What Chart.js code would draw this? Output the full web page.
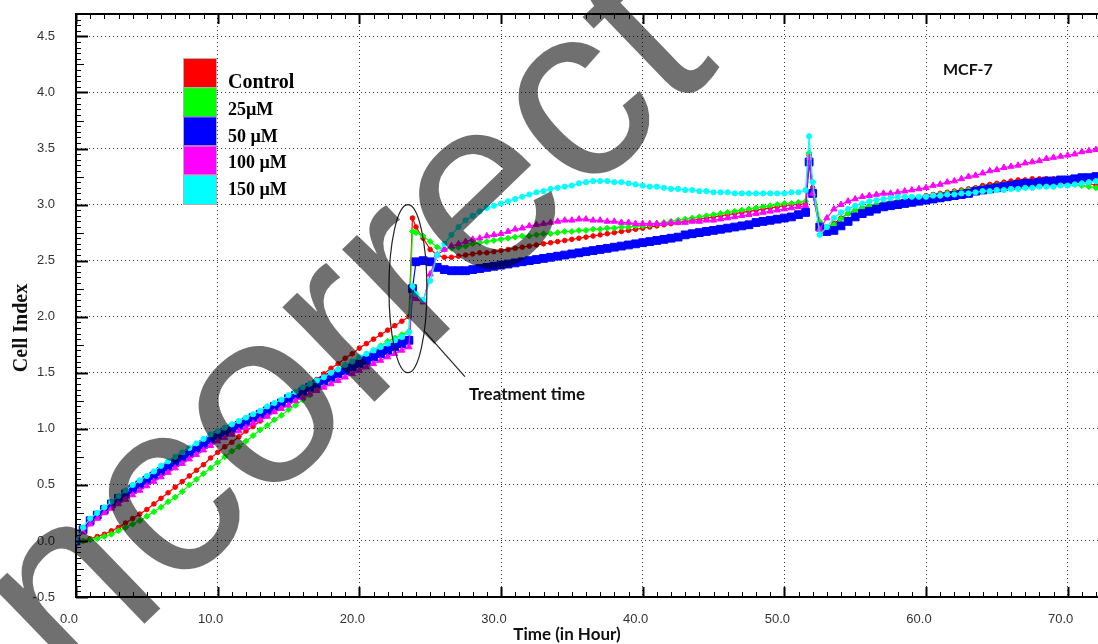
<!DOCTYPE html>
<html>
<head>
<meta charset="utf-8">
<title>MCF-7 Cell Index</title>
<script src="https://cdn.jsdelivr.net/npm/chart.js@4.4.1/dist/chart.umd.min.js"></script>
<style>
  html, body { margin: 0; padding: 0; background: #fff; overflow: hidden; }
  #wrap { width: 1145px; height: 644px; }
</style>
</head>
<body>
<div id="wrap"><canvas id="cellIndex" width="1145" height="644"></canvas></div>
<script>
// time points (hours)
const hours = [
  0, 0.5, 1, 1.5, 2, 2.5, 3, 3.5, 4, 4.5,
  5, 5.5, 6, 6.5, 7, 7.5, 8, 8.5, 9, 9.5,
  10, 10.5, 11, 11.5, 12, 12.5, 13, 13.5, 14, 14.5,
  15, 15.5, 16, 16.5, 17, 17.5, 18, 18.5, 19, 19.5,
  20, 20.5, 21, 21.5, 22, 22.5, 23, 23.5,
  23.75,
  24, 24.5, 25, 25.5, 26, 26.5, 27, 27.5, 28, 28.5,
  29, 29.5, 30, 30.5, 31, 31.5, 32, 32.5, 33, 33.5,
  34, 34.5, 35, 35.5, 36, 36.5, 37, 37.5, 38, 38.5,
  39, 39.5, 40, 40.5, 41, 41.5, 42, 42.5, 43, 43.5,
  44, 44.5, 45, 45.5, 46, 46.5, 47, 47.5, 48, 48.5,
  49, 49.5, 50, 50.5, 51, 51.5,
  51.75,
  52, 52.5, 53, 53.5, 54, 54.5, 55, 55.5, 56, 56.5,
  57, 57.5, 58, 58.5, 59, 59.5, 60, 60.5, 61, 61.5,
  62, 62.5, 63, 63.5, 64, 64.5, 65, 65.5, 66, 66.5,
  67, 67.5, 68, 68.5, 69, 69.5, 70, 70.5, 71, 71.5,
  72, 72.5, 73
];

const control = [
  0, 0, 0.02, 0.04, 0.06, 0.09, 0.12, 0.16, 0.2, 0.24,
  0.28, 0.33, 0.38, 0.43, 0.48, 0.53, 0.58, 0.63, 0.68, 0.74,
  0.79, 0.84, 0.88, 0.93, 0.98, 1.02, 1.07, 1.12, 1.17, 1.21,
  1.26, 1.31, 1.35, 1.4, 1.44, 1.49, 1.54, 1.58, 1.63, 1.67,
  1.72, 1.76, 1.8, 1.84, 1.88, 1.92, 1.96, 2.0,
  2.88,
  2.8, 2.7, 2.6, 2.55, 2.53, 2.53, 2.54, 2.55, 2.56, 2.57,
  2.57, 2.58, 2.59, 2.6, 2.61, 2.62, 2.63, 2.64, 2.65, 2.66,
  2.67, 2.68, 2.69, 2.7, 2.71, 2.72, 2.73, 2.74, 2.75, 2.76,
  2.77, 2.78, 2.79, 2.8, 2.81, 2.82, 2.83, 2.84, 2.85, 2.86,
  2.87, 2.88, 2.89, 2.9, 2.91, 2.92, 2.93, 2.94, 2.95, 2.96,
  2.97, 2.98, 2.99, 3.0, 3.0, 3.01,
  3.44,
  3.15, 2.83, 2.8, 2.83, 2.88, 2.92, 2.95, 2.97, 2.99, 3.0,
  3.01, 3.02, 3.03, 3.04, 3.05, 3.06, 3.08, 3.09, 3.1, 3.11,
  3.12, 3.13, 3.14, 3.15, 3.17, 3.18, 3.19, 3.2, 3.21, 3.22,
  3.22, 3.23, 3.23, 3.23, 3.23, 3.23, 3.22, 3.21, 3.2, 3.19,
  3.17, 3.15, 3.14
];

const dose25 = [
  0, 0, 0.01, 0.02, 0.04, 0.06, 0.09, 0.12, 0.15, 0.18,
  0.22, 0.26, 0.3, 0.35, 0.39, 0.44, 0.5, 0.55, 0.6, 0.65,
  0.7, 0.75, 0.8, 0.84, 0.89, 0.94, 0.99, 1.03, 1.08, 1.12,
  1.17, 1.21, 1.26, 1.3, 1.35, 1.39, 1.44, 1.48, 1.53, 1.57,
  1.62, 1.66, 1.7, 1.74, 1.78, 1.81, 1.84, 1.87,
  2.76,
  2.75, 2.72, 2.67, 2.62, 2.6, 2.61, 2.62, 2.63, 2.65, 2.66,
  2.67, 2.68, 2.69, 2.7, 2.71, 2.72, 2.72, 2.73, 2.74, 2.74,
  2.75, 2.76, 2.76, 2.77, 2.77, 2.78, 2.78, 2.79, 2.79, 2.8,
  2.8, 2.81, 2.81, 2.82, 2.83, 2.84, 2.85, 2.86, 2.87, 2.88,
  2.89, 2.9, 2.91, 2.92, 2.93, 2.94, 2.95, 2.96, 2.97, 2.98,
  2.99, 3.0, 3.01, 3.01, 3.02, 3.03,
  3.46,
  3.2, 2.85, 2.8, 2.82, 2.87, 2.92, 2.95, 2.97, 2.99, 3.0,
  3.01, 3.02, 3.03, 3.04, 3.05, 3.06, 3.07, 3.08, 3.09, 3.1,
  3.11, 3.12, 3.13, 3.14, 3.15, 3.16, 3.17, 3.18, 3.18, 3.19,
  3.19, 3.2, 3.2, 3.2, 3.2, 3.2, 3.19, 3.18, 3.17, 3.16,
  3.15, 3.14, 3.13
];

const dose50 = [
  0, 0.1, 0.18, 0.23, 0.28, 0.33, 0.38, 0.42, 0.46, 0.5,
  0.54, 0.58, 0.62, 0.66, 0.7, 0.74, 0.78, 0.82, 0.86, 0.9,
  0.94, 0.97, 1.0, 1.03, 1.06, 1.1, 1.13, 1.16, 1.2, 1.23,
  1.27, 1.3, 1.33, 1.37, 1.4, 1.43, 1.46, 1.49, 1.52, 1.55,
  1.58, 1.61, 1.64, 1.67, 1.7, 1.73, 1.76, 1.79,
  2.25,
  2.49, 2.5, 2.49, 2.44, 2.42, 2.41, 2.41, 2.41, 2.42, 2.43,
  2.44, 2.45, 2.46, 2.47, 2.48, 2.49, 2.5, 2.51, 2.52, 2.53,
  2.54, 2.55, 2.56, 2.57, 2.58, 2.59, 2.6, 2.61, 2.62, 2.63,
  2.64, 2.65, 2.66, 2.67, 2.68, 2.69, 2.7, 2.71, 2.73, 2.74,
  2.75, 2.76, 2.77, 2.78, 2.79, 2.8, 2.81, 2.82, 2.84, 2.85,
  2.86, 2.87, 2.88, 2.89, 2.91, 2.93,
  3.38,
  3.1, 2.8, 2.76, 2.77, 2.81, 2.85, 2.89, 2.92, 2.94, 2.96,
  2.98, 2.99, 3.0, 3.01, 3.02, 3.03, 3.04, 3.05, 3.06, 3.07,
  3.08, 3.09, 3.1, 3.12, 3.13, 3.14, 3.15, 3.16, 3.17, 3.18,
  3.19, 3.19, 3.2, 3.21, 3.21, 3.22, 3.22, 3.23, 3.24, 3.24,
  3.25, 3.25, 3.26
];

const dose100 = [
  0, 0.08, 0.15, 0.2, 0.25, 0.29, 0.33, 0.37, 0.41, 0.45,
  0.49, 0.53, 0.57, 0.61, 0.65, 0.69, 0.73, 0.77, 0.81, 0.85,
  0.89, 0.92, 0.95, 0.98, 1.01, 1.05, 1.08, 1.11, 1.15, 1.18,
  1.21, 1.25, 1.28, 1.31, 1.34, 1.37, 1.4, 1.43, 1.46, 1.49,
  1.52, 1.55, 1.58, 1.61, 1.64, 1.67, 1.7, 1.73,
  2.18,
  2.16, 2.13, 2.38, 2.55, 2.6, 2.63, 2.65, 2.67, 2.69, 2.7,
  2.72, 2.73, 2.74, 2.76, 2.78, 2.79, 2.81, 2.82, 2.83, 2.84,
  2.85, 2.86, 2.86, 2.87, 2.87, 2.86, 2.86, 2.85, 2.85, 2.84,
  2.84, 2.83, 2.83, 2.83, 2.83, 2.83, 2.84, 2.84, 2.84, 2.85,
  2.85, 2.86, 2.86, 2.87, 2.88, 2.89, 2.9, 2.91, 2.92, 2.93,
  2.94, 2.95, 2.96, 2.97, 2.98, 2.99,
  3.42,
  3.1, 2.78, 2.88, 2.96, 3.0, 3.03, 3.05, 3.07, 3.08, 3.09,
  3.1, 3.1, 3.11, 3.12, 3.13, 3.14, 3.15, 3.17, 3.18, 3.2,
  3.21, 3.23, 3.25, 3.26, 3.28, 3.3, 3.31, 3.33, 3.34, 3.35,
  3.37, 3.38, 3.39, 3.41, 3.42, 3.43, 3.44, 3.45, 3.47, 3.48,
  3.49, 3.5, 3.51
];

const dose150 = [
  0, 0.12, 0.2, 0.25, 0.3, 0.35, 0.4, 0.45, 0.5, 0.54,
  0.58, 0.62, 0.67, 0.71, 0.75, 0.79, 0.83, 0.87, 0.91, 0.95,
  0.98, 1.01, 1.04, 1.07, 1.1, 1.13, 1.16, 1.2, 1.23, 1.26,
  1.3, 1.33, 1.37, 1.4, 1.43, 1.46, 1.5, 1.53, 1.57, 1.6,
  1.64, 1.67, 1.7, 1.73, 1.76, 1.79, 1.82, 1.86,
  2.27,
  2.2, 2.15, 2.32, 2.55, 2.65, 2.73, 2.8, 2.86, 2.9, 2.94,
  2.97, 2.99, 3.01, 3.03, 3.05, 3.07, 3.09, 3.11, 3.12, 3.14,
  3.15, 3.16, 3.17, 3.19, 3.2, 3.21, 3.21, 3.21, 3.2, 3.2,
  3.19, 3.18, 3.17, 3.16, 3.16, 3.15, 3.14, 3.14, 3.13, 3.13,
  3.12, 3.12, 3.11, 3.11, 3.11, 3.1, 3.1, 3.1, 3.1, 3.1,
  3.1, 3.1, 3.1, 3.11, 3.11, 3.13,
  3.61,
  3.2, 2.73, 2.8, 2.88, 2.93, 2.96, 2.99, 3.01, 3.03, 3.04,
  3.05, 3.06, 3.07, 3.07, 3.07, 3.07, 3.07, 3.08, 3.08, 3.09,
  3.09, 3.1, 3.1, 3.11, 3.12, 3.12, 3.13, 3.13, 3.14, 3.14,
  3.15, 3.15, 3.16, 3.16, 3.16, 3.17, 3.17, 3.18, 3.19, 3.2,
  3.21, 3.21, 3.22
];

const seriesNames = ['Control', '25µM', '50 µM', '100 µM', '150 µM'];
const seriesValues = [control, dose25, dose50, dose100, dose150];
const xMajor = [0, 10, 20, 30, 40, 50, 60, 70];
const yMajor = [-0.5, 0, 0.5, 1, 1.5, 2, 2.5, 3, 3.5, 4, 4.5];

// look of each series
const colors = ['#ff0000', '#00ff00', '#0000ff', '#ff00ff', '#00ffff'];
const markers = ['circle', 'rectRot', 'rect', 'triangle', 'circle'];
const markerSize = [2.3, 3, 5.5, 3.6, 2.6];

const datasets = seriesNames.map((name, k) => ({
  label: name,
  data: hours.map((h, i) => ({ x: h, y: seriesValues[k][i] })),
  borderColor: colors[k],
  backgroundColor: colors[k],
  borderWidth: 1.2,
  pointStyle: markers[k],
  pointRadius: markerSize[k],
  pointBorderWidth: 1,
  pointBackgroundColor: colors[k],
  tension: 0,
  order: 5 - k
}));

// inner tick marks, frame top, legend, notes and the stamp
const extras = {
  id: 'extras',
  afterDatasetsDraw(chart) {
    const ctx = chart.ctx;
    const xs = chart.scales.x, ys = chart.scales.y, a = chart.chartArea;
    ctx.save();
    ctx.strokeStyle = '#000';
    ctx.lineWidth = 2;
    ctx.beginPath();
    ctx.moveTo(a.left - 1, a.top);
    ctx.lineTo(a.right, a.top);
    ctx.stroke();
    for (let i = 0; i <= 75; i++) {
      const major = i % 10 === 0;
      const px = Math.round(xs.getPixelForValue(i)) + 0.5;
      const len = major ? 10 : 5;
      ctx.lineWidth = major ? 2 : 1;
      ctx.beginPath();
      ctx.moveTo(px, a.bottom); ctx.lineTo(px, a.bottom - len);
      ctx.moveTo(px, a.top); ctx.lineTo(px, a.top + len);
      ctx.stroke();
    }
    for (let j = -10; j <= 94; j++) {
      const major = j % 10 === 0;
      const py = Math.round(ys.getPixelForValue(j * 0.05)) + 0.5;
      const len = major ? 12 : (j % 5 === 0 ? 8 : 5);
      ctx.lineWidth = major ? 2 : 1;
      ctx.beginPath();
      ctx.moveTo(a.left, py); ctx.lineTo(a.left + len, py);
      ctx.stroke();
    }

    // treatment ellipse + pointer
    const cx = xs.getPixelForValue(23.43), cy = ys.getPixelForValue(2.25);
    ctx.lineWidth = 1.2;
    ctx.strokeStyle = '#222';
    ctx.beginPath();
    ctx.ellipse(cx, cy, 19, 84, 0, 0, Math.PI * 2);
    ctx.stroke();
    ctx.beginPath();
    ctx.moveTo(cx + 17, cy + 43);
    ctx.lineTo(cx + 57, cy + 88);
    ctx.stroke();

    ctx.fillStyle = '#111';
    ctx.textAlign = 'left';
    ctx.textBaseline = 'alphabetic';
    ctx.font = 'bold 17px Lato';
    ctx.fillText('Treatment time', 469, 400);
    ctx.font = 'bold 16px Lato';
    ctx.fillText('MCF-7', 943, 75);

    // axis titles
    ctx.textAlign = 'center';
    ctx.font = 'bold 17px Lato';
    ctx.fillText('Time (in Hour)', 567, 640);
    ctx.save();
    ctx.translate(27, 328);
    ctx.rotate(-Math.PI / 2);
    ctx.font = 'bold 20px "Liberation Serif"';
    ctx.fillText('Cell Index', 0, 0);
    ctx.restore();

    // legend
    const boxH = 29.2;
    chart.data.datasets.forEach((ds, k) => {
      ctx.fillStyle = ds.borderColor;
      ctx.fillRect(183, 58 + k * boxH, 33, boxH);
      ctx.strokeStyle = '#b0b0b0';
      ctx.lineWidth = 1;
      ctx.strokeRect(183.5, 58.5 + k * boxH, 33, boxH);
      ctx.fillStyle = '#000';
      ctx.textAlign = 'left';
      ctx.font = k === 0 ? 'bold 20px "Liberation Serif"' : 'bold 18px "Liberation Serif"';
      ctx.fillText(ds.label, 228, 88 + k * 26.75);
    });
    ctx.restore();
  },
  afterDraw(chart) {
    const ctx = chart.ctx;
    ctx.save();
    ctx.translate(22, 742);
    ctx.rotate(-44 * Math.PI / 180);
    ctx.font = '250px "Liberation Sans"';
    ctx.fillStyle = 'rgba(0, 0, 0, 0.56)';
    ctx.textAlign = 'left';
    ctx.textBaseline = 'alphabetic';
    ctx.fillText('Incorrect', 0, 0);
    ctx.restore();
  }
};

const tickFont = { family: 'Liberation Sans', size: 13 };

new Chart(document.getElementById('cellIndex'), {
  type: 'line',
  data: { datasets: datasets },
  options: {
    responsive: false,
    animation: false,
    devicePixelRatio: 1,
    layout: { padding: { top: 14, right: 6, bottom: 0, left: 0 } },
    plugins: { legend: { display: false }, tooltip: { enabled: false } },
    scales: {
      x: {
        type: 'linear', position: 'bottom', min: 0, max: 75,
        afterBuildTicks: s => { s.ticks = xMajor.map(v => ({ value: v })); },
        afterFit: s => { s.height = 47; s.paddingLeft = 0; s.paddingRight = 0; },
        grid: { color: '#333', lineWidth: 1, drawTicks: false },
        border: { display: true, color: '#000', width: 2, dash: [1, 3] },
        ticks: {
          padding: 15, labelOffset: -7, color: '#333', font: tickFont,
          maxRotation: 0, autoSkip: false,
          callback: v => v.toFixed(1)
        }
      },
      y: {
        type: 'linear', min: -0.5, max: 4.7,
        afterBuildTicks: s => { s.ticks = yMajor.map(v => ({ value: v })); },
        afterFit: s => { s.width = 76; s.paddingTop = 0; s.paddingBottom = 0; },
        grid: { color: '#333', lineWidth: 1, drawTicks: false },
        border: { display: true, color: '#000', width: 2, dash: [1, 3] },
        ticks: {
          padding: 21, color: '#333', font: tickFont,
          callback: v => v.toFixed(1)
        }
      }
    }
  },
  plugins: [extras]
});
</script>
</body>
</html>
